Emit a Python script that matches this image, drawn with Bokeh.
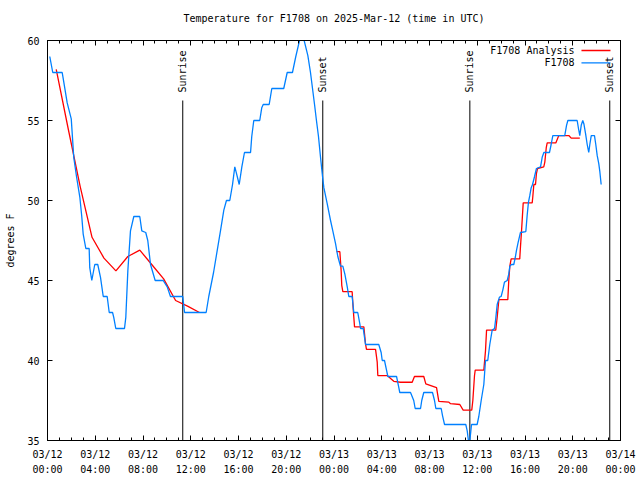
import math
from bokeh.plotting import figure
from bokeh.models import FixedTicker, LinearAxis, Label, Range1d, CustomLabelingPolicy
from bokeh.embed import file_html
from bokeh.resources import INLINE
from bokeh.core.properties import value

FONT = "DejaVu Sans Mono"
NAN = float("nan")

# ---- data ----
tick_hours = [0, 4, 8, 12, 16, 20, 24, 28, 32, 36, 40, 44, 48]
tick_labels = ["03/12\n00:00", "03/12\n04:00", "03/12\n08:00", "03/12\n12:00",
               "03/12\n16:00", "03/12\n20:00", "03/13\n00:00", "03/13\n04:00",
               "03/13\n08:00", "03/13\n12:00", "03/13\n16:00", "03/13\n20:00",
               "03/14\n00:00"]
minor_hours = list(range(0, 49))
y_ticks = [35, 40, 45, 50, 55, 60]

obs_hours = [0.19, 0.44, 1.23, 1.32, 1.65, 1.99, 2.20, 2.43, 2.71, 2.87, 2.99, 3.21, 3.49,
             3.54, 3.71, 3.96, 4.21, 4.44, 4.67, 5.00, 5.17, 5.45, 5.55, 5.72, 6.45, 6.56,
             6.73, 6.95, 7.23, 7.73, 7.90, 8.23, 8.40, 8.63, 9.02, 9.69, 10.03, 10.30,
             11.33, 11.48, 13.29, 13.51, 13.91, 14.49, 14.77, 14.99, 15.27, 15.50, 15.69,
             15.83, 16.06, 16.28, 16.50, 17.01, 17.11, 17.28, 17.78, 17.95, 18.07, 18.57,
             18.79, 19.79, 20.08, 20.52, 20.80, 21.30, 21.81, 22.03, 22.20, 22.37, 22.53,
             22.70, 22.87, 23.04, 23.15, 23.43, 23.71, 23.90, 24.13, 24.32, 24.54, 24.74,
             24.91, 25.11, 25.24, 25.52, 25.66, 25.99, 26.16, 26.22, 26.45, 26.64, 27.75,
             27.95, 28.04, 28.23, 28.40, 28.51, 29.24, 29.43, 29.51, 30.41, 30.68, 30.80,
             31.25, 31.35, 31.52, 32.25, 32.42, 32.53, 32.98, 33.09, 33.26, 35.04, 35.16,
             35.26, 35.38, 35.52, 35.99, 36.13, 36.33, 36.55, 36.69, 36.88, 37.05, 37.25,
             37.45, 37.53, 37.67, 37.86, 38.00, 38.14, 38.28, 38.51, 38.64, 38.73, 38.87,
             39.06, 39.20, 39.29, 39.43, 39.62, 40.07, 40.18, 40.29, 40.40, 40.52, 40.63,
             40.80, 40.96, 41.30, 41.44, 41.58, 42.05, 42.19, 42.33, 43.33, 43.48, 43.59,
             44.37, 44.48, 44.59, 44.71, 44.84, 44.93, 45.07, 45.21, 45.34, 45.43, 45.55,
             45.82, 45.93, 46.05, 46.18, 46.27, 46.38]
obs_temp = [59.0, 58.0, 58.0, 57.6, 56.1, 55.1, 52.7, 51.5, 50.2, 49.0, 47.9, 47.0, 47.0,
            45.8, 45.0, 46.0, 46.0, 45.2, 44.0, 44.0, 43.0, 43.0, 42.7, 42.0, 42.0, 42.7,
            45.6, 48.1, 49.0, 49.0, 48.1, 48.0, 47.5, 46.0, 45.0, 45.0, 44.6, 44.0,
            44.0, 43.0, 43.0, 44.0, 45.5, 48.1, 49.4, 50.0, 50.0, 51.0, 52.1,
            51.7, 51.0, 52.1, 53.0, 53.0, 54.0, 55.0, 55.0, 55.8, 56.0, 56.0,
            57.0, 57.0, 58.0, 58.0, 59.0, 60.6, 59.06, 58.0, 57.0, 56.0, 55.0,
            54.0, 52.7, 51.5, 50.8, 49.8, 48.75, 48.1, 47.3, 46.5, 45.9, 45.9,
            45.4, 44.6, 44.0, 44.0, 43.0, 43.0, 42.3, 42.0, 42.0, 41.0, 41.0,
            40.5, 40.0, 40.0, 39.4, 39.0, 39.0, 38.3, 38.0, 38.0, 37.5, 37.0,
            37.0, 37.5, 38.0, 38.0, 37.5, 37.0, 37.0, 36.56, 36.0, 36.0, 35.6,
            35.0, 35.0, 36.0, 36.0, 36.5, 37.5, 38.5, 40.0, 40.0, 41.0, 41.9,
            42.0, 42.5, 43.5, 43.96, 44.0, 44.4, 44.9, 45.0, 45.4, 45.9, 46.0,
            46.0, 46.5, 46.9, 47.4, 48.0, 48.06, 49.06, 49.9, 50.3, 50.8, 51.0,
            51.5, 52.0, 52.1, 52.7, 53.0, 53.0, 53.5, 54.06, 54.06, 54.7, 55.0,
            55.0, 54.5, 54.06, 54.7, 55.0, 54.8, 54.2, 53.5, 53.0, 53.5, 54.06,
            54.06, 53.5, 52.8, 52.3, 51.8, 51.0]

ana_hours = [0.73, 1.73, 2.73, 3.73, 4.73, 5.73, 6.73, 7.73, 8.73, 9.73, 10.73, 11.73, 12.73,
             NAN,
             24.21, 24.49, 24.60, 24.65, 24.74, 25.52, 25.61, 25.72, 26.50, 26.64, 26.72,
             27.48, 27.62, 27.67, 28.46, 28.79, 29.01, 29.57, 30.55, 30.74, 31.52, 31.69,
             32.59, 32.70, 32.78, 33.62, 33.76, 34.54, 34.82, 35.54, 35.63, 35.77, 35.83,
             36.55, 36.69, 36.78, 37.55, 37.67, 37.81, 38.56, 38.64, 38.73, 38.84, 39.56,
             39.62, 39.71, 39.85, 40.60, 40.65, 40.74, 40.88, 40.96, 41.05, 41.57, 41.66,
             41.78, 41.86, 42.58, 42.83, 43.67, 43.87, 44.59]
ana_temp = [58.2, 54.5, 50.9, 47.7, 46.4, 45.6, 46.5, 46.9, 46.0, 45.1, 43.75, 43.4, 43.0,
            NAN,
            46.8, 46.8, 45.6, 44.7, 44.3, 44.3, 43.2, 42.1, 42.1, 41.04, 40.7,
            40.7, 39.9, 39.06, 39.06, 38.85, 38.7, 38.64, 38.64, 39.0, 39.0, 38.54,
            38.3, 37.8, 37.45, 37.4, 37.3, 37.25, 36.9, 36.9, 37.5, 39.06, 39.4,
            39.4, 40.6, 41.9, 41.9, 42.7, 43.8, 43.8, 45.0, 45.9, 46.35, 46.35,
            47.1, 48.1, 49.85, 49.85, 50.2, 51.0, 51.0, 51.7, 52.0, 52.1, 52.4,
            53.3, 53.6, 53.6, 54.06, 54.06, 53.9, 53.9]

event_hours = [11.33, 23.06, 35.38, 47.10]
event_names = ["Sunrise", "Sunset", "Sunrise", "Sunset"]

series_names = ["F1708 Analysis", "F1708"]
series_colors = ["#ff0000", "#0080ff"]

# ---- layout constants ----
EVENT_LINE_TOP = 56.25
EVENT_TEXT_Y = 56.75
LEG_TEXT_X = 44.15
LEG_LINE_X0 = 44.73
LEG_LINE_X1 = 47.16
LEG_Y = [59.375, 58.6]

p = figure(frame_width=573, frame_height=400,
           x_range=Range1d(0, 48), y_range=Range1d(35, 60),
           output_backend="svg", toolbar_location=None,
           min_border_left=47, min_border_right=20,
           min_border_top=40, min_border_bottom=40,
           title="Temperature for F1708 on 2025-Mar-12 (time in UTC)")
p.title.align = "center"
p.title.text_font = FONT
p.title.text_font_size = "10px"
p.title.text_font_style = "normal"
p.title.text_color = "black"
p.title.standoff = 12

p.xgrid.visible = False
p.ygrid.visible = False
p.outline_line_color = "black"
p.background_fill_color = "white"
p.border_fill_color = "white"

no_labels = CustomLabelingPolicy(code="return new Set()")

def style_x(ax, labels):
    ax.ticker = FixedTicker(ticks=tick_hours, minor_ticks=minor_hours)
    ax.major_tick_in = 5
    ax.major_tick_out = 0
    ax.minor_tick_in = 3
    ax.minor_tick_out = 0
    ax.axis_line_color = "black"
    ax.major_tick_line_color = "black"
    ax.minor_tick_line_color = "black"
    if labels:
        ax.major_label_overrides = {h: t for h, t in zip(tick_hours, tick_labels)}
        ax.major_label_text_font = FONT
        ax.major_label_text_font_size = "10px"
        ax.major_label_text_color = "black"
        ax.major_label_text_line_height = 1.4
        ax.major_label_standoff = 8
    else:
        ax.major_label_policy = no_labels
        ax.major_label_standoff = 0

def style_y(ax, labels):
    ax.ticker = FixedTicker(ticks=y_ticks, minor_ticks=[])
    ax.major_tick_in = 5
    ax.major_tick_out = 0
    ax.minor_tick_in = 0
    ax.minor_tick_out = 0
    ax.axis_line_color = "black"
    ax.major_tick_line_color = "black"
    if labels:
        ax.major_label_text_font = FONT
        ax.major_label_text_font_size = "10px"
        ax.major_label_text_color = "black"
        ax.major_label_standoff = 8
        ax.axis_label = "degrees F"
        ax.axis_label_text_font = FONT
        ax.axis_label_text_font_size = "10px"
        ax.axis_label_text_font_style = "normal"
        ax.axis_label_text_color = "black"
        ax.axis_label_standoff = 8
    else:
        ax.major_label_policy = no_labels
        ax.major_label_standoff = 0

style_x(p.xaxis[0], True)
style_y(p.yaxis[0], True)
top_ax = LinearAxis()
style_x(top_ax, False)
p.add_layout(top_ax, "above")
right_ax = LinearAxis()
style_y(right_ax, False)
p.add_layout(right_ax, "right")

# sunrise / sunset markers
p.segment(x0=event_hours, y0=[35] * len(event_hours), x1=event_hours,
          y1=[EVENT_LINE_TOP] * len(event_hours), line_color="black", line_width=1)
p.text(x=event_hours, y=[EVENT_TEXT_Y] * len(event_hours), text=event_names,
       angle=math.pi / 2, text_align="left", text_baseline="middle",
       text_font=value(FONT), text_font_size="10px", text_color="black")

# data
p.line(ana_hours, ana_temp, line_color=series_colors[0], line_width=1.3)
p.line(obs_hours, obs_temp, line_color=series_colors[1], line_width=1.3)

# key
for name, col, ly in zip(series_names, series_colors, LEG_Y):
    p.add_layout(Label(x=LEG_TEXT_X, y=ly, text=name, text_align="right",
                       text_baseline="middle", text_font=FONT,
                       text_font_size="10px", text_color="black"))
    p.segment(x0=[LEG_LINE_X0], y0=[ly], x1=[LEG_LINE_X1], y1=[ly],
              line_color=col, line_width=1.3)

open("out.html", "w").write(file_html(p, INLINE))
